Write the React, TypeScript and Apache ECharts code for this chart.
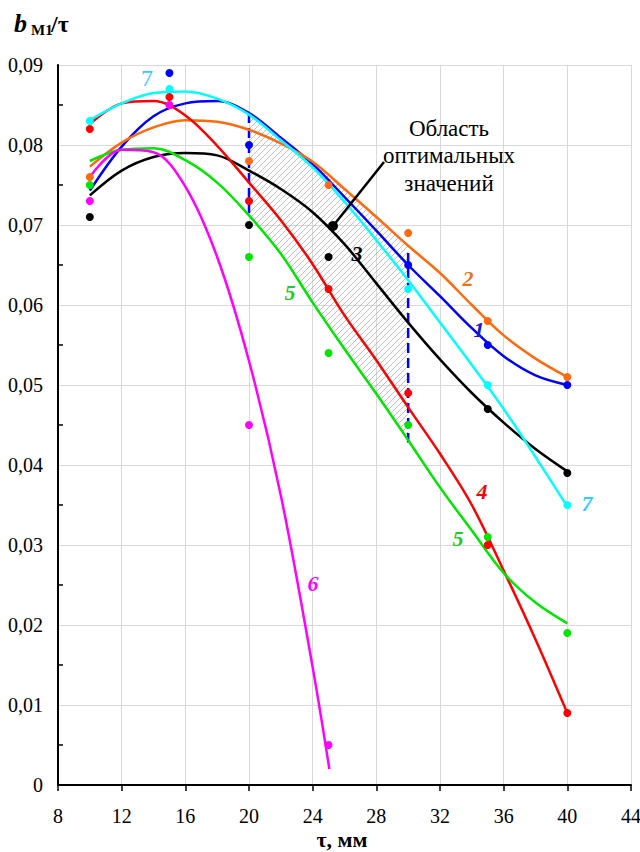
import React, { useEffect, useRef } from 'react';
import * as echarts from 'echarts';

const FONT = 'Liberation Serif, Times New Roman, serif';

// axis
const X_MIN = 8;
const X_MAX = 44;
const X_STEP = 4;
const Y_MIN = 0;
const Y_MAX = 0.09;
const Y_STEP = 0.01;

// measured points (null = not drawn)
const pointX = [10, 15, 20, 25, 30, 35, 40];
const points1 = [null, 0.089, 0.080, null, 0.065, 0.055, 0.050];
const points2 = [0.076, null, 0.078, 0.075, 0.069, 0.058, 0.051];
const points3 = [0.071, null, 0.070, 0.066, null, 0.047, 0.039];
const points4 = [0.082, 0.086, 0.073, 0.062, 0.049, 0.030, 0.009];
const points5 = [0.075, null, 0.066, 0.054, 0.045, 0.031, 0.019];
const points6 = [0.073, 0.085, 0.045, 0.005, null, null, null];
const points7 = [0.083, 0.087, null, null, 0.062, 0.050, 0.035];

// trend curves
const curveX = [10, 12, 14, 16, 18, 20, 22, 24, 26, 28, 30, 32, 34, 36, 38, 40];
const curve1 = [0.0743, 0.0798, 0.0836, 0.0852, 0.0855, 0.0840, 0.0809, 0.0776, 0.0735, 0.0693, 0.0650, 0.0611, 0.0571, 0.0536, 0.0512, 0.0500];
const curve2 = [0.0773, 0.0803, 0.0822, 0.0831, 0.0829, 0.0819, 0.0802, 0.0779, 0.0745, 0.0710, 0.0674, 0.0640, 0.0600, 0.0562, 0.0533, 0.0510];
const curve3 = [0.0737, 0.0768, 0.0785, 0.0790, 0.0787, 0.0768, 0.0745, 0.0716, 0.0676, 0.0627, 0.0578, 0.0532, 0.0490, 0.0453, 0.0420, 0.0392];
const curve4 = [0.0826, 0.0852, 0.0855, 0.0837, 0.0799, 0.0753, 0.0706, 0.0651, 0.0587, 0.0531, 0.0472, 0.0414, 0.0350, 0.0268, 0.0182, 0.0090];
const curve5 = [0.0780, 0.0794, 0.0796, 0.0781, 0.0753, 0.0712, 0.0664, 0.0603, 0.0545, 0.0489, 0.0431, 0.0372, 0.0318, 0.0265, 0.0228, 0.0202];
const curve6X = [10, 12, 14, 16, 18, 20, 22, 24, 25.05];
const curve6 = [0.0760, 0.0794, 0.0791, 0.0748, 0.0660, 0.0530, 0.0362, 0.0147, 0.0020];
const curve7 = [0.0831, 0.0852, 0.0865, 0.0867, 0.0858, 0.0838, 0.0806, 0.0772, 0.0729, 0.0681, 0.0631, 0.0578, 0.0525, 0.0470, 0.0410, 0.0348];

// optimal region (between x = 20 and 30)
const regionFrom = 20;
const regionTo = 30;
const dash20 = [0.0840, 0.0710];
const dash30 = [0.0665, 0.0428];

const COLORS = ['#0000FF', '#FF6A10', '#000000', '#FF0000', '#00E600', '#FF00FF', '#00FFFF'];

function makePattern() {
  const s = 6;
  const c = document.createElement('canvas');
  c.width = s;
  c.height = s;
  const ctx = c.getContext('2d')!;
  ctx.strokeStyle = '#a6a6a6';
  ctx.lineWidth = 0.7;
  ctx.beginPath();
  ctx.moveTo(0, s); ctx.lineTo(s, 0);
  ctx.moveTo(-1, 1); ctx.lineTo(1, -1);
  ctx.moveTo(s - 1, s + 1); ctx.lineTo(s + 1, s - 1);
  ctx.stroke();
  return { image: c, repeat: 'repeat', imageWidth: s, imageHeight: s };
}

export default function App() {
  const ref = useRef<HTMLDivElement>(null);
  useEffect(() => {
    if (!ref.current) return;
    const chart = echarts.init(ref.current, null, { renderer: 'svg' });

    const curves = [curve1, curve2, curve3, curve4, curve5, curve6, curve7];
    const points = [points1, points2, points3, points4, points5, points6, points7];

    const idx = curveX.map((x, i) => i).filter((i) => curveX[i] >= regionFrom && curveX[i] <= regionTo);
    const hatchX = idx.map((i) => curveX[i]);
    const hatchTop = idx.map((i) => Math.max(curve1[i], curve2[i], curve7[i]));
    const hatchBottom = idx.map((i) => curve5[i]);
    const pattern = makePattern();

    const series: any[] = [
      {
        type: 'custom',
        coordinateSystem: 'cartesian2d',
        data: [[hatchX[0], hatchBottom[0]]],
        silent: true,
        clip: false,
        z: 1,
        renderItem: (_p: any, api: any) => {
          const top = hatchX.map((x, i) => api.coord([x, hatchTop[i]]));
          const bot = hatchX.map((x, i) => api.coord([x, hatchBottom[i]])).reverse();
          return {
            type: 'polygon',
            shape: { points: [...top, ...bot] },
            style: { fill: pattern, stroke: null },
          };
        },
      },
      {
        type: 'line',
        data: [[regionFrom, dash20[0]], [regionFrom, dash20[1]]],
        symbol: 'none',
        silent: true,
        lineStyle: { color: '#0000FF', width: 2.5, type: [10, 5] },
        z: 2,
      },
      {
        type: 'line',
        data: [[regionTo, dash30[0]], [regionTo, dash30[1]]],
        symbol: 'none',
        silent: true,
        lineStyle: { color: '#0000FF', width: 2.5, type: [10, 5] },
        z: 2,
      },
    ];

    curves.forEach((c, k) => {
      const xs = k === 5 ? curve6X : curveX;
      series.push({
        type: 'line',
        data: xs.map((x, i) => [x, c[i]]),
        smooth: 0.35,
        symbol: 'none',
        silent: true,
        lineStyle: { color: COLORS[k], width: 2.5 },
        z: 3,
      });
      series.push({
        type: 'scatter',
        data: pointX.map((x, i) => [x, points[k][i]]).filter((d) => d[1] !== null),
        symbolSize: 8,
        silent: true,
        itemStyle: { color: COLORS[k], opacity: 1 },
        z: 3,
      });
    });

    const label = (text: string, x: number, y: number, color: string, opts: any = {}) => ({
      type: 'text',
      x,
      y,
      silent: true,
      z: 10,
      style: {
        text,
        fill: color,
        fontFamily: FONT,
        fontSize: opts.size || 22,
        fontStyle: opts.style || 'italic',
        fontWeight: opts.weight || 'bold',
        textAlign: opts.align || 'center',
        textVerticalAlign: 'middle',
      },
    });

    const graphic: any[] = [
      label('b', 14, 23, '#000', { size: 26, align: 'left' }),
      label('М1', 31, 30, '#000', { size: 15, style: 'normal', align: 'left' }),
      label('/τ', 51, 24, '#000', { size: 24, style: 'normal', align: 'left' }),
      label('τ, мм', 342, 839, '#000', { size: 22, style: 'normal' }),
      label('7', 147, 78, '#33CCFF', { size: 24, style: 'normal', weight: 'normal' }),
      label('7', 587, 503, '#33CCFF'),
      label('2', 468, 278, '#E8731E'),
      label('1', 479, 329, '#1A1AD0'),
      label('3', 357, 253, '#000000'),
      label('4', 482, 491, '#FF0000'),
      label('5', 290, 292, '#22CC22'),
      label('5', 458, 538, '#22CC22'),
      label('6', 313, 583, '#FF00FF'),
      label('Область', 449, 128, '#000', { size: 23, style: 'normal', weight: 'normal' }),
      label('оптимальных', 449, 155, '#000', { size: 23, style: 'normal', weight: 'normal' }),
      label('значений', 449, 183, '#000', { size: 23, style: 'normal', weight: 'normal' }),
      {
        type: 'line',
        silent: true,
        z: 10,
        shape: { x1: 333, y1: 226, x2: 384, y2: 162 },
        style: { stroke: '#000', lineWidth: 2.5 },
      },
      {
        type: 'circle',
        silent: true,
        z: 10,
        shape: { cx: 333, cy: 226, r: 5 },
        style: { fill: '#000' },
      },
    ];

    chart.setOption({
      animation: false,
      backgroundColor: '#fff',
      grid: { left: 58, right: 9, top: 65, bottom: 67, containLabel: false, outerBoundsMode: 'none' },
      xAxis: {
        type: 'value',
        min: X_MIN,
        max: X_MAX,
        interval: X_STEP,
        axisLine: { show: true, onZero: false, lineStyle: { color: '#000', width: 2 } },
        axisTick: { show: true, inside: false, length: 6, lineStyle: { color: '#000', width: 1.5 } },
        splitLine: { show: true, lineStyle: { color: '#D9D9D9', width: 1 } },
        axisLabel: { fontFamily: FONT, fontSize: 20, color: '#000', margin: 21 },
      },
      yAxis: {
        type: 'value',
        min: Y_MIN,
        max: Y_MAX,
        interval: Y_STEP,
        axisLine: { show: true, onZero: false, lineStyle: { color: '#000', width: 2 } },
        axisTick: { show: false, inside: true },
        minorTick: { show: true, splitNumber: 2, length: 5, lineStyle: { color: '#000', width: 1.5 } },
        splitLine: { show: true, lineStyle: { color: '#D9D9D9', width: 1 } },
        axisLabel: {
          fontFamily: FONT,
          fontSize: 20,
          color: '#000',
          margin: 15,
          formatter: (v: number) => (v === 0 ? '0' : v.toFixed(2).replace('.', ',')),
        },
      },
      series,
      graphic,
    });

    return () => chart.dispose();
  }, []);

  return <div ref={ref} style={{ position: 'fixed', left: 0, top: 0, width: 640, height: 852 }} />;
}
